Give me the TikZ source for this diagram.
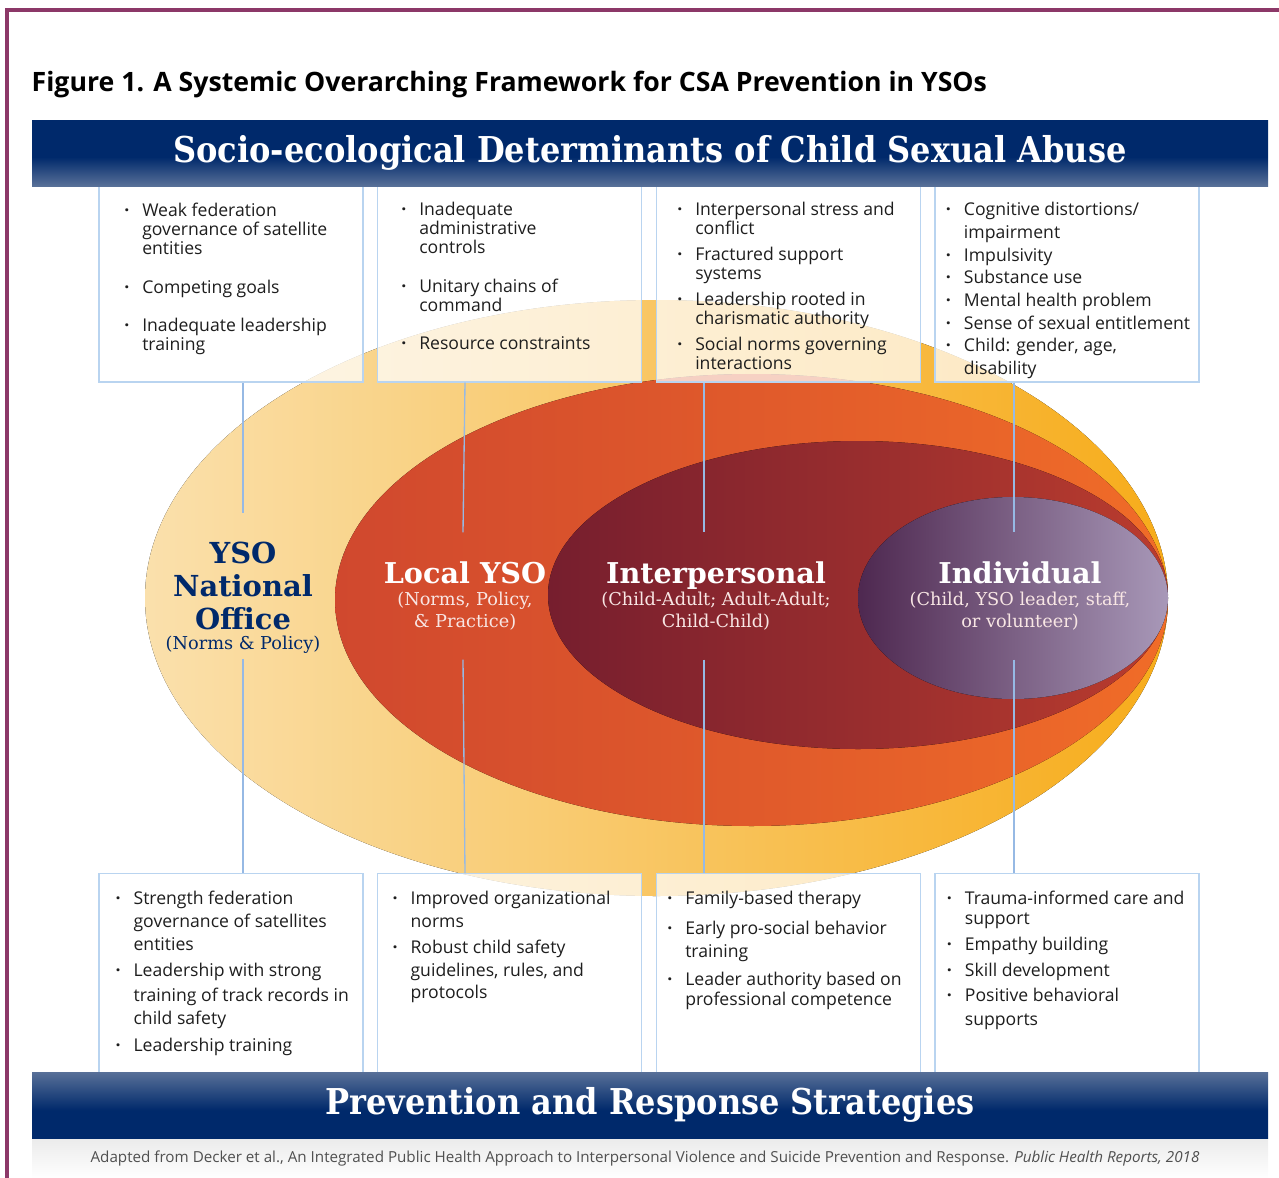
\documentclass[tikz,border=0pt]{standalone}
\usepackage{fontspec}
\setmainfont{Open Sans}
\newfontfamily\slabfont{DejaVu Serif}
\newfontfamily\slabcond{DejaVu Serif Condensed}
\usetikzlibrary{positioning}

\definecolor{navy}{RGB}{0,41,107}
\definecolor{barlight}{RGB}{88,112,152}
\definecolor{framepurple}{RGB}{140,56,104}
\definecolor{boxline}{RGB}{185,212,240}
\definecolor{linkblue}{RGB}{150,185,228}
\definecolor{itemtext}{RGB}{30,30,30}
\definecolor{footgray}{RGB}{80,80,80}
\definecolor{subpink}{RGB}{248,230,228}
\definecolor{yelA}{RGB}{250,224,172}
\definecolor{yelB}{RGB}{247,172,26}
\definecolor{orgA}{RGB}{208,72,46}
\definecolor{orgB}{RGB}{240,108,40}
\definecolor{redA}{RGB}{118,30,46}
\definecolor{redB}{RGB}{186,60,46}
\definecolor{purA}{RGB}{78,40,80}
\definecolor{purB}{RGB}{168,152,184}

\pgfdeclareverticalshading{topbarshade}{100bp}{color(0bp)=(barlight); color(25bp)=(barlight); color(47bp)=(navy); color(100bp)=(navy)}
\pgfdeclareverticalshading{botbarshade}{100bp}{color(0bp)=(navy); color(46bp)=(navy); color(75bp)=(barlight); color(100bp)=(barlight)}

\newcommand{\itm}{\makebox[13.5pt][l]{\textbf{\textperiodcentered}}}
\newcommand{\ind}{\hspace*{13.5pt}}
\newcommand{\lvlfont}{\slabfont\bfseries\fontsize{21.5pt}{16.5pt}\selectfont}

\tikzset{
  bar/.style={minimum width=927pt, minimum height=49.5pt, inner sep=0pt, text=white,
    font=\slabcond\bfseries\fontsize{26.7pt}{30pt}\selectfont},
  topbox/.style={draw=boxline, line width=1pt, fill=white, fill opacity=0.72,
    minimum width=198pt, minimum height=147pt, inner sep=0pt},
  botbox/.style={topbox, minimum height=152pt},
  items/.style={inner sep=0pt, align=left, text=itemtext,
    font=\fontsize{13.2pt}{#1}\selectfont},
  items/.default=14.25pt,
  lvl/.style={inner sep=0pt, outer ysep=22pt, align=center, text=subpink,
    font=\slabfont\fontsize{13.3pt}{16.5pt}\selectfont},
  link/.style={draw=linkblue, line width=1pt}
}

\begin{document}
\begin{tikzpicture}[x=0.75pt, y=-0.75pt]
  \useasboundingbox (0,0) rectangle (1279,1178);

  % frame and title
  \draw[framepurple, line width=3pt] (7,1178) -- (7,10) -- (1279,10);
  \node[anchor=west, font=\bfseries\fontsize{20pt}{22pt}\selectfont] (ttl) at (27,84)
    {Figure 1. A Systemic Overarching Framework for CSA Prevention in YSOs};

  % nested levels
  \fill[left color=yelA, right color=yelB] (656.5,598) ellipse [x radius=511.5, y radius=298];
  \fill[left color=orgA, right color=orgB] (751.5,600) ellipse [x radius=416.5, y radius=226];
  \fill[left color=redA, right color=redB] (858,595) ellipse [x radius=310, y radius=154];
  \fill[left color=purA, right color=purB] (1013,598) ellipse [x radius=155, y radius=101];

  \node[lvl, text=navy, font=\slabfont\bfseries\fontsize{21.7pt}{24.75pt}\selectfont] (nat) at (243,598)
    {YSO\\National\\Office\\[-10pt]{\mdseries\fontsize{13.3pt}{15pt}\selectfont (Norms \& Policy)}};
  \node[lvl] (loc) at (465,596)
    {{\lvlfont\color{white}Local YSO}\\(Norms, Policy,\\\& Practice)};
  \node[lvl] (inter) at (716,596)
    {{\lvlfont\color{white}Interpersonal}\\(Child-Adult; Adult-Adult;\\Child-Child)};
  \node[lvl] (indiv) at (1020,596)
    {{\lvlfont\color{white}Individual}\\(Child, YSO leader, staff,\\or volunteer)};

  % determinant boxes
  \node[topbox] (t1) at (231,284) {};
  \node[topbox, right=10pt of t1] (t2) {};
  \node[topbox, right=10pt of t2] (t3) {};
  \node[topbox, right=10pt of t3] (t4) {};

  \node[items, below right=12.75pt and 19.25pt of t1.north west] (t1txt)
    {\itm Weak federation\\ \ind governance of satellite\\ \ind entities\\[15pt]
     \itm Competing goals\\[14.25pt]
     \itm Inadequate leadership\\ \ind training};
  \node[items, below right=12.75pt and 18pt of t2.north west] (t2txt)
    {\itm Inadequate\\ \ind administrative\\ \ind controls\\[15pt]
     \itm Unitary chains of\\ \ind command\\[14.25pt]
     \itm Resource constraints};
  \node[items, below right=12.75pt and 16pt of t3.north west] (t3txt)
    {\itm Interpersonal stress and\\ \ind conflict\\[5.25pt]
     \itm Fractured support\\ \ind systems\\[5.25pt]
     \itm Leadership rooted in\\ \ind charismatic authority\\[5.25pt]
     \itm Social norms governing\\ \ind interactions};
  \node[items=17pt, below right=12.75pt and 8.5pt of t4.north west] (t4txt)
    {\itm Cognitive distortions/\\ \ind impairment\\
     \itm Impulsivity\\
     \itm Substance use\\
     \itm Mental health problem\\
     \itm Sense of sexual entitlement\\
     \itm Child: gender, age,\\ \ind disability};

  % strategy boxes
  \node[botbox] (b1) at (231,975) {};
  \node[botbox, right=10pt of b1] (b2) {};
  \node[botbox, right=10pt of b2] (b3) {};
  \node[botbox, right=10pt of b3] (b4) {};

  \node[items=17.25pt, below right=13.25pt and 12.75pt of b1.north west] (b1txt)
    {\itm Strength federation\\ \ind governance of satellites\\ \ind entities\\[2.25pt]
     \itm Leadership with strong\\[1.5pt] \ind training of track records in\\ \ind child safety\\[3pt]
     \itm Leadership training};
  \node[items=17.25pt, below right=13.25pt and 11.5pt of b2.north west] (b2txt)
    {\itm Improved organizational\\ \ind norms\\[2.25pt]
     \itm Robust child safety\\ \ind guidelines, rules, and\\[-0.75pt] \ind protocols};
  \node[items=17.25pt, below right=13.25pt and 8.5pt of b3.north west] (b3txt)
    {\itm Family-based therapy\\[5.25pt]
     \itm Early pro-social behavior\\ \ind training\\[3.75pt]
     \itm Leader authority based on\\[-2.25pt] \ind professional competence};
  \node[items=17.25pt, below right=13.25pt and 9.25pt of b4.north west] (b4txt)
    {\itm Trauma-informed care and\\[-2.25pt] \ind support\\[2.25pt]
     \itm Empathy building\\[2.25pt]
     \itm Skill development\\[1.5pt]
     \itm Positive behavioral\\[0.75pt] \ind supports};

  % connectors through the levels
  \draw[link] (t1.south -| nat.north) -- (nat.north);
  \draw[link] ([yshift=18pt]nat.south) -- (nat.south |- b1.north);
  \draw[link] (t2.south -| loc.north) -- ([xshift=-1.5pt]loc.north);
  \draw[link] ([xshift=-1.5pt]loc.south) -- (loc.south |- b2.north);
  \draw[link] ([xshift=-9pt]inter.north |- t3.south) -- ([xshift=-9pt]inter.north);
  \draw[link] ([xshift=-9pt]inter.south) -- ([xshift=-9pt]inter.south |- b3.north);
  \draw[link] ([xshift=-4.5pt]indiv.north |- t4.south) -- ([xshift=-4.5pt]indiv.north);
  \draw[link] ([xshift=-4.5pt]indiv.south) -- ([xshift=-4.5pt]indiv.south |- b4.north);

  % bars
  \node[bar, shade, shading=topbarshade] (hdr) at (650,153)
    {Socio-ecological Determinants of Child Sexual Abuse};
  \fill[top color=black!8, bottom color=white] (32,1138) rectangle (1268,1178);
  \node[bar, shade, shading=botbarshade] (ftr) at (650,1105)
    {Prevention and Response Strategies};

  \node[text=footgray, font=\fontsize{11.4pt}{13pt}\selectfont] (src) at (645,1158)
    {Adapted from Decker et al., An Integrated Public Health Approach to Interpersonal Violence and Suicide Prevention and Response. \textit{Public Health Reports, 2018}};
\end{tikzpicture}
\end{document}
